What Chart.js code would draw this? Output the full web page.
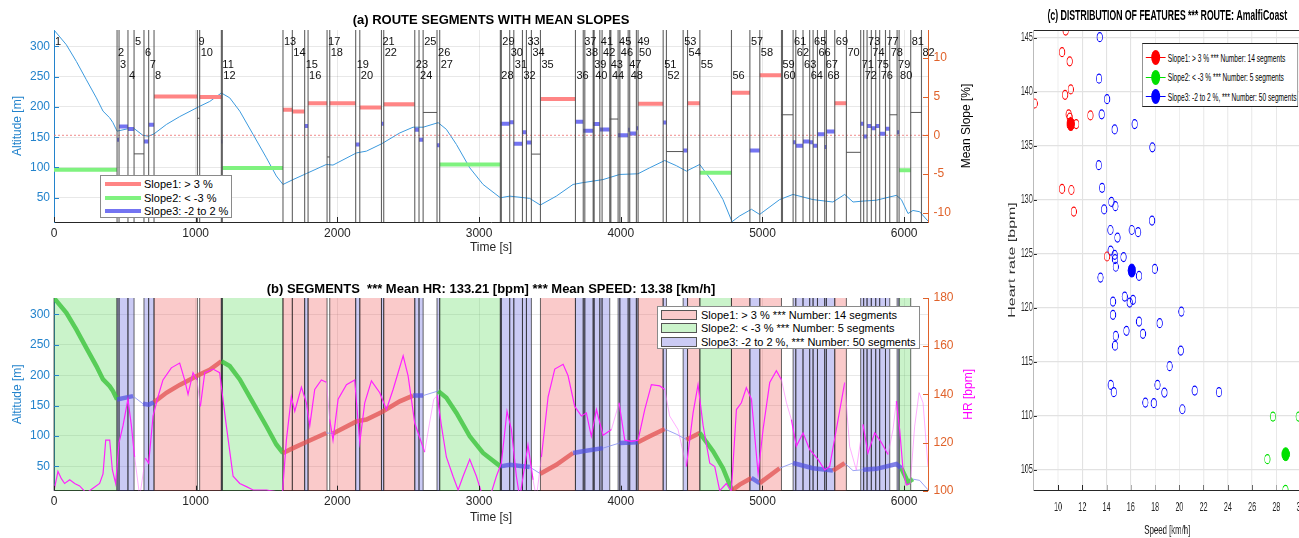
<!DOCTYPE html>
<html>
<head>
<meta charset="utf-8">
<script src="https://cdn.jsdelivr.net/npm/chart.js@4.4.1/dist/chart.umd.min.js"></script>
<style>
html, body { margin: 0; padding: 0; width: 1299px; height: 538px; overflow: hidden; background: #fff; }
body { position: relative; font-family: "Liberation Sans", Arial, sans-serif; }
#wrapA { position: absolute; left: 0; top: 0; width: 1000px; height: 262px; }
#wrapB { position: absolute; left: 0; top: 262px; width: 1000px; height: 276px; }
#wrapC { position: absolute; left: 1000px; top: 0; width: 560px; height: 538px; transform: scaleX(0.6); transform-origin: 0 0; }
.legend { position: absolute; background: #fff; border: 1px solid #8a8a8a; font-size: 11px; color: #000; box-sizing: border-box; }
.legend .row { position: absolute; left: 0; right: 0; height: 14px; line-height: 14px; white-space: nowrap; }
.legend .txt { position: absolute; top: 0; }
.legend .sw { position: absolute; box-sizing: border-box; }
</style>
</head>
<body>
<div id="wrapA"><canvas id="chartA" width="1000" height="262"></canvas>
  <div class="legend" id="legA" style="left:100px;top:175px;width:132px;height:43px"></div>
</div>
<div id="wrapB"><canvas id="chartB" width="1000" height="276"></canvas>
  <div class="legend" id="legB" style="left:657px;top:44px;width:263px;height:43px"></div>
</div>
<div id="wrapC"><canvas id="chartC" width="560" height="538"></canvas>
  <div class="legend" id="legC" style="left:237px;top:43px;width:260px;height:64px;border-color:#222"></div>
</div>
<script>
// segments: start time [s] and mean slope [%] (82 segments)
const segStart = [0, 445, 459, 522, 565, 635, 668, 706, 1012, 1028,
  1181, 1188, 1616, 1682, 1769, 1793, 1927, 1946, 2129, 2158,
  2311, 2327, 2546, 2576, 2605, 2703, 2722, 3150, 3157, 3216,
  3245, 3306, 3334, 3369, 3433, 3680, 3735, 3746, 3805, 3812,
  3852, 3868, 3922, 3930, 3981, 3993, 4052, 4063, 4110, 4122,
  4299, 4322, 4440, 4471, 4558, 4781, 4911, 4981, 5134, 5141,
  5216, 5235, 5286, 5333, 5357, 5388, 5439, 5451, 5510, 5592,
  5693, 5714, 5738, 5768, 5799, 5827, 5868, 5898, 5950, 5964,
  6046, 6122];
const segSlope = [-4.45, -0.58, 1.14, 0.8, -2.4, -0.8, 1.35, 5.0, 2.2, 4.96,
  -0.8, -4.24, 3.3, 3.07, 1.2, 4.15, -2.8, 4.15, -1.2, 3.6,
  1.5, 4.0, 0.7, -0.58, 2.95, -1.3, -3.76, 1.5, 1.48, 1.7,
  -1.1, 0.4, -0.92, -2.43, 4.7, 1.74, 0.6, 0.58, 1.45, 1.45,
  0.75, 0.75, 2.1, 2.1, 0, 0, 0.7, 0.24, 0.9, 4.06,
  1.65, -2.1, -1.95, 4.15, -4.84, 5.5, -1.95, 7.76, 2.65, 2.65,
  -0.9, -1.35, -0.8, -0.9, -1.35, 0.15, -1.5, 0.5, 4.15, -2.2,
  1.48, -0.15, 1.2, 0.9, 1.2, 0.2, 0.85, 2.65, 0.4, -4.5,
  2.95, null];
const tEnd = 6168;
const timeTicks = [0, 1000, 2000, 3000, 4000, 5000, 6000];

// altitude profile
const altTime = [0, 87, 158, 228, 299, 346, 393, 416, 445, 522, 558, 628, 668, 706, 793, 887, 1028, 1099, 1181, 1240,
  1311, 1405, 1499, 1569, 1616, 1687, 1781, 1922, 1969, 2134, 2205, 2311, 2440, 2534, 2605, 2711, 2769, 2840, 2934, 3028,
  3150, 3216, 3357, 3432, 3545, 3663, 3733, 3874, 3992, 4121, 4204, 4310, 4392, 4463, 4557, 4651, 4721, 4785, 4839, 4922,
  4980, 5121, 5215, 5356, 5497, 5580, 5639, 5709, 5804, 5945, 5980, 6027, 6062, 6109, 6168];
const altValue = [327, 302.7, 275, 245, 215, 193, 182, 174, 160, 164, 165.6, 153, 151.6, 155.5, 171, 184, 201, 209, 223, 215,
  193, 154.6, 116, 86, 72, 80, 90, 105, 104, 124, 127, 139, 157, 166.5, 166.5, 174, 163, 138, 99.5, 72,
  50, 52.7, 49, 38, 52.7, 72, 75, 80, 88.5, 89.6, 99.5, 111.5, 103, 94, 105, 75, 47, 10.5, 20, 31,
  22.5, 47, 55.5, 47, 43, 55.5, 43, 44.5, 46, 54, 47, 24, 29, 27, 11.5];

// heart rate
const hrTime = [0, 28, 52, 75, 111, 146, 181, 228, 275, 322, 346, 365, 393, 412, 435, 459, 487, 522, 546, 569,
  605, 645, 668, 699, 734, 769, 828, 887, 922, 946, 981, 1009, 1033, 1064, 1122, 1169, 1216, 1264, 1311, 1358,
  1405, 1499, 1569, 1612, 1640, 1675, 1699, 1746, 1781, 1805, 1840, 1887, 1922, 1946, 1969, 2005, 2064, 2122, 2158, 2193,
  2240, 2299, 2346, 2393, 2464, 2499, 2546, 2616, 2650, 2680, 2705, 2734, 2769, 2816, 2852, 2887, 2934, 2981, 3028, 3075,
  3122, 3157, 3197, 3228, 3263, 3287, 3345, 3381, 3404, 3440, 3487, 3534, 3593, 3628, 3675, 3722, 3757, 3792, 3828, 3875,
  3934, 3988, 4028, 4075, 4122, 4169, 4216, 4275, 4310, 4345, 4404, 4463, 4510, 4545, 4581, 4628, 4663, 4698, 4745, 4780,
  4816, 4851, 4886, 4922, 4969, 5004, 5051, 5098, 5134, 5169, 5204, 5239, 5286, 5333, 5392, 5439, 5474, 5521, 5580, 5615,
  5662, 5709, 5744, 5792, 5839, 5886, 5921, 5945, 5968, 5992, 6015, 6043, 6074, 6105, 6133, 6168];
const hrValue = [100, 108, 105, 103, 104.5, 103, 102, 99, 101, 103, 107, 121, 121, 108.6, 103, 120, 127, 138, 127, 114,
  97.5, 113.5, 111.4, 131, 139, 146, 151, 153, 146, 140, 149, 146, 135, 149, 150.5, 149, 127, 106, 103, 101.7,
  100.3, 100.3, 99.6, 99, 121, 139, 133, 143, 136.5, 127, 142, 146, 145, 129.5, 121, 138, 144, 146, 120, 136.5,
  145.6, 140.7, 133.7, 142, 156, 147.7, 128, 116, 128, 138, 139.5, 127, 114, 106, 100.3, 106, 113, 106, 97, 97,
  106, 111.4, 133, 125.4, 106, 97, 119, 104.5, 97, 114, 139, 150.5, 152.5, 147.7, 135, 131, 132.3, 122.6, 133.7, 123,
  125.4, 136.5, 121, 120.5, 121, 133.7, 144, 143.5, 142, 131, 125.4, 110, 132.3, 144, 127, 111.4, 110, 100, 103, 99.6,
  133.7, 136.5, 142.8, 138, 107, 125.4, 144.9, 149.8, 146, 136.5, 129.5, 118.4, 124, 117, 113, 108.6, 110, 125.4, 144.9, 118.4,
  108.6, 127.5, 115.6, 124, 120, 115, 125.4, 137.2, 125.4, 108.6, 102.4, 103, 126.8, 140.7, 136.5, 110];

// features per segment (speed km/h, heart rate bpm)
const redSpeed = [10.63, 10.33, 10.96, 10.58, 11.05, 8.08, 10.88, 10.97, 11.5, 12.67, 10.33, 11.1, 11.3, 14.04];
const redHR = [145.65, 143.65, 142.8, 139.7, 140.2, 138.9, 137.9, 137.6, 137, 137.8, 131, 130.9, 128.9, 124.75];
const greenSpeed = [27.72, 29.84, 27.26, 28.75];
const greenHR = [109.94, 109.94, 106.0, 103.16];
const blueSpeed = [13.44, 13.38, 14.04, 13.6, 14.67, 16.32, 17.78, 13.36, 13.63, 14.4, 14.73, 13.8, 14.32, 14.9, 16.08, 16.6,
  17.75, 14.34, 14.67, 15.4, 14.7, 14.76, 17.98, 13.5, 16.68, 15.5, 14.53, 15.91, 16.18, 20.17, 14.53, 16.68,
  18.38, 15.64, 14.76, 17.0, 14.7, 20.12, 19.2, 14.35, 14.6, 18.2, 18.77, 21.27, 23.27, 17.2, 17.9, 20.25];
const blueHR = [145.04, 141.2, 139.3, 137.9, 136.5, 137, 134.85, 133.2, 131.1, 129.8, 129.4, 129.1, 127.2, 126.5, 127.2, 127.0,
  128.07, 125.3, 124.9, 124.7, 124.5, 123.8, 123.6, 122.8, 122.95, 121.04, 120.58, 120.49, 120.74, 119.65, 119.35, 118.73,
  118.58, 117.87, 117.4, 117.6, 116.5, 116.05, 114.6, 112.87, 112.2, 112.87, 112.16, 112.35, 112.2, 111.24, 111.18, 110.62];
const meanSpeed = [11.05, 28.77, 16.08];
const meanHR = [137.0, 106.46, 123.45];

const slopeNames = ['Slope1: > 3 %', 'Slope2: < -3 %', 'Slope3: -2 to 2 %'];
const countNames = ['Slope1: > 3 % *** Number: 14 segments', 'Slope2: < -3 % *** Number: 5 segments',
  'Slope3: -2 to 2 %, *** Number: 50 segments'];

// ---- helpers ----
const FONT = '"Liberation Sans", Arial, sans-serif';
Chart.defaults.font.family = FONT;
const ink = '#262626', axBlue = '#2383cc', axOrange = '#e0622a', gridCol = 'rgba(0,0,0,0.09)';

function slopeClass(s) {
  if (s === null) return 0;
  if (s > 3) return 1;
  if (s < -3) return 2;
  if (s >= -2 && s <= 2) return 3;
  return 0;
}
const segEnd = i => (i < segStart.length - 1 ? segStart[i + 1] : tEnd);
function clsAt(t) {
  for (let i = segStart.length - 1; i >= 0; i--) if (t >= segStart[i]) return slopeClass(segSlope[i]);
  return 0;
}
const clsOf = c => clsAt((c.p0.parsed.x + c.p1.parsed.x) / 2);

function slopeLine(cls) {
  const pts = [];
  segStart.forEach((t0, i) => {
    if (segSlope[i] === null || slopeClass(segSlope[i]) !== cls) return;
    pts.push({x: t0, y: segSlope[i]}, {x: segEnd(i), y: segSlope[i]}, {x: segEnd(i), y: null});
  });
  return pts;
}
const altRange = [10, 327];
function boundaryLines() {
  const pts = [];
  segStart.slice(1).forEach(t => pts.push({x: t, y: altRange[0]}, {x: t, y: altRange[1]}, {x: t, y: null}));
  return pts;
}
const altPoints = altTime.map((t, i) => ({x: t, y: altValue[i]}));
const hrPoints = hrTime.map((t, i) => ({x: t, y: hrValue[i]}));
const xy = (xs, ys) => xs.map((v, i) => ({x: v, y: ys[i]}));

// ---- plugins ----
const segNumbers = {
  id: 'segNumbers',
  afterDatasetsDraw(chart) {
    const {ctx, chartArea: a, scales: {x}} = chart;
    ctx.save();
    ctx.font = '11px ' + FONT;
    ctx.fillStyle = '#111';
    ctx.textAlign = 'left';
    ctx.textBaseline = 'middle';
    segStart.forEach((t, i) => {
      ctx.fillText(String(i + 1), x.getPixelForValue(t) + 1, a.top + 11.7 + (i % 4) * 11.45);
    });
    ctx.restore();
  }
};

const patchFill = [null, 'rgba(240,80,80,0.3)', 'rgba(80,215,80,0.3)', 'rgba(80,80,220,0.3)'];
const patches = {
  id: 'patches',
  beforeDatasetsDraw(chart) {
    const {ctx, chartArea: a, scales: {x}} = chart;
    ctx.save();
    segStart.forEach((t0, i) => {
      const c = slopeClass(segSlope[i]);
      if (!c) return;
      const x0 = x.getPixelForValue(t0), x1 = x.getPixelForValue(segEnd(i));
      ctx.fillStyle = patchFill[c];
      ctx.fillRect(x0, a.top, x1 - x0, a.bottom - a.top);
      ctx.strokeStyle = 'rgba(40,40,40,0.7)';
      ctx.lineWidth = 1;
      ctx.beginPath();
      ctx.moveTo(x0, a.top); ctx.lineTo(x0, a.bottom);
      ctx.moveTo(x1, a.top); ctx.lineTo(x1, a.bottom);
      ctx.stroke();
    });
    ctx.restore();
  }
};

const sideTitle = {
  id: 'sideTitle',
  afterDraw(chart, args, opts) {
    if (!opts.text) return;
    const {ctx, chartArea: a} = chart;
    ctx.save();
    ctx.translate(chart.width - opts.inset, (a.top + a.bottom) / 2);
    ctx.rotate(-Math.PI / 2);
    ctx.font = '12px ' + FONT;
    ctx.fillStyle = opts.color;
    ctx.textAlign = 'center';
    ctx.textBaseline = 'middle';
    ctx.fillText(opts.text, 0, 0);
    ctx.restore();
  }
};

const innerTicks = {
  id: 'innerTicks',
  afterDraw(chart, args, opts) {
    const {ctx, chartArea: a} = chart;
    ctx.save();
    ctx.lineWidth = 1;
    (opts.axes || []).forEach(([id, color]) => {
      const s = chart.scales[id];
      ctx.strokeStyle = color;
      ctx.beginPath();
      s.ticks.forEach(tk => {
        const p = Math.round(s.getPixelForValue(tk.value)) + 0.5;
        if (s.isHorizontal()) { ctx.moveTo(p, a.bottom); ctx.lineTo(p, a.bottom - 5); }
        else if (s.position === 'left') { ctx.moveTo(a.left, p); ctx.lineTo(a.left + 5, p); }
        else { ctx.moveTo(a.right, p); ctx.lineTo(a.right - 5, p); }
      });
      ctx.stroke();
    });
    if (opts.top) {
      ctx.strokeStyle = ink;
      ctx.beginPath(); ctx.moveTo(a.left, a.top + 0.5); ctx.lineTo(a.right, a.top + 0.5); ctx.stroke();
    }
    ctx.restore();
  }
};

const base = {
  responsive: false,
  animation: false,
  events: [],
  layout: {padding: 0},
  elements: {point: {radius: 0}, line: {tension: 0}},
  spanGaps: false
};

function timeAxis(h, tickPad, titlePad) {
  return {
    type: 'linear', min: 0, max: tEnd,
    afterFit: s => { s.height = h; },
    afterBuildTicks: s => { s.ticks = timeTicks.map(v => ({value: v})); },
    ticks: {padding: tickPad, color: ink, font: {size: 12}, maxRotation: 0, autoSkip: false, callback: v => String(v)},
    grid: {color: gridCol, drawTicks: false},
    border: {color: ink},
    title: {display: true, text: 'Time [s]', color: ink, font: {size: 12}, padding: {top: 0, bottom: titlePad}}
  };
}
function altAxis() {
  return {
    type: 'linear', position: 'left', min: altRange[0], max: altRange[1],
    afterFit: s => { s.width = 54; },
    ticks: {stepSize: 50, includeBounds: false, padding: 4, color: axBlue, font: {size: 12}},
    grid: {color: gridCol, drawTicks: false},
    border: {color: axBlue},
    title: {display: true, text: 'Altitude [m]', color: axBlue, font: {size: 12}, padding: {top: 10.3, bottom: 0}}
  };
}

// ---- (a) ----
new Chart(document.getElementById('chartA'), {
  type: 'line',
  data: {datasets: [
    {data: boundaryLines(), borderColor: 'rgba(70,70,70,0.85)', borderWidth: 1.1, yAxisID: 'y', order: 0},
    {data: slopeLine(1), borderColor: '#ff8585', borderWidth: 4, yAxisID: 'y2', order: 1},
    {data: slopeLine(2), borderColor: '#7ff27f', borderWidth: 4, yAxisID: 'y2', order: 1},
    {data: slopeLine(3), borderColor: '#7474f2', borderWidth: 4, yAxisID: 'y2', order: 1},
    {data: slopeLine(0), borderColor: '#555', borderWidth: 1, yAxisID: 'y2', order: 1},
    {data: [{x: 0, y: 0}, {x: tEnd, y: 0}], borderColor: 'rgba(235,110,110,0.8)', borderDash: [2, 2], borderWidth: 1, yAxisID: 'y2', order: 2},
    {data: altPoints, borderColor: '#3c9ade', borderWidth: 1, yAxisID: 'y', order: 3}
  ]},
  options: Object.assign({}, base, {
    scales: {
      x: timeAxis(40, 4.8, 6.8),
      y: altAxis(),
      y2: {
        type: 'linear', position: 'right', min: -11.2, max: 13.6,
        afterFit: s => { s.width = 72; },
        ticks: {stepSize: 5, includeBounds: false, padding: 5.5, color: axOrange, font: {size: 12}},
        grid: {drawOnChartArea: false, drawTicks: false},
        border: {color: axOrange}
      }
    },
    plugins: {
      legend: {display: false}, tooltip: {enabled: false},
      title: {display: true, fullSize: false, text: '(a) ROUTE SEGMENTS WITH MEAN SLOPES', color: '#000',
        font: {size: 13, weight: 'bold'}, padding: {top: 13, bottom: 1.4}},
      sideTitle: {text: 'Mean Slope [%]', color: '#000', inset: 33.3},
      innerTicks: {axes: [['x', ink], ['y', axBlue], ['y2', axOrange]]}
    }
  }),
  plugins: [segNumbers, sideTitle, innerTicks]
});

// ---- (b) ----
const altStyle = [
  {c: 'rgba(130,140,240,0.8)', w: 1},
  {c: 'rgba(225,80,80,0.75)', w: 4.5},
  {c: 'rgba(60,195,60,0.8)', w: 4.5},
  {c: 'rgba(80,80,225,0.72)', w: 4.5}
];
const hrStyle = [
  {c: 'rgba(255,110,255,0.55)', w: 1},
  {c: '#ff22ff', w: 1.2}, {c: '#ff22ff', w: 1.2}, {c: '#ff22ff', w: 1.2}
];
new Chart(document.getElementById('chartB'), {
  type: 'line',
  data: {datasets: [
    {data: hrPoints, yAxisID: 'y2', order: 0, borderColor: '#ff22ff',
      segment: {borderColor: c => hrStyle[clsOf(c)].c, borderWidth: c => hrStyle[clsOf(c)].w}},
    {data: altPoints, yAxisID: 'y', order: 1, borderColor: altStyle[0].c,
      segment: {borderColor: c => altStyle[clsOf(c)].c, borderWidth: c => altStyle[clsOf(c)].w}}
  ]},
  options: Object.assign({}, base, {
    scales: {
      x: timeAxis(47.3, 4.1, 12.8),
      y: altAxis(),
      y2: {
        type: 'linear', position: 'right', min: 100, max: 180,
        afterFit: s => { s.width = 72; },
        ticks: {stepSize: 20, padding: 5.5, color: axOrange, font: {size: 12}},
        grid: {drawOnChartArea: false, drawTicks: false},
        border: {color: axOrange}
      }
    },
    plugins: {
      legend: {display: false}, tooltip: {enabled: false},
      title: {display: true, fullSize: false,
        text: '(b) SEGMENTS  *** Mean HR: 133.21 [bpm] *** Mean SPEED: 13.38 [km/h]', color: '#000',
        font: {size: 13, weight: 'bold'}, padding: {top: 19.7, bottom: 0.7}},
      sideTitle: {text: 'HR [bpm]', color: '#ff00ff', inset: 31.5},
      innerTicks: {axes: [['x', ink], ['y', axBlue], ['y2', axOrange]]}
    }
  }),
  plugins: [patches, sideTitle, innerTicks]
});

// ---- (c) ----
const dotCols = ['#ff0000', '#00e000', '#0000ff'];
const hollow = (pts, col) => ({data: pts, pointStyle: 'circle', pointRadius: 4.5, pointBorderWidth: 1.2,
  pointBorderColor: col, pointBackgroundColor: 'rgba(0,0,0,0)', showLine: false, order: 1});
new Chart(document.getElementById('chartC'), {
  type: 'scatter',
  data: {datasets: [
    {data: xy(meanSpeed, meanHR), pointStyle: 'circle', pointRadius: 6.5, pointBorderWidth: 1,
      pointBackgroundColor: dotCols, pointBorderColor: dotCols, order: 0},
    hollow(xy(redSpeed, redHR), dotCols[0]),
    hollow(xy(greenSpeed, greenHR), dotCols[1]),
    hollow(xy(blueSpeed, blueHR), dotCols[2])
  ]},
  options: Object.assign({}, base, {
    layout: {padding: {right: 59}},
    scales: {
      x: {
        type: 'linear', min: 8.02, max: 30,
        afterFit: s => { s.height = 48; },
        ticks: {stepSize: 2, includeBounds: false, padding: 10.8, color: ink, font: {size: 12}, maxRotation: 0},
        grid: {color: '#e2e2e2', lineWidth: 1.3, drawTicks: false},
        border: {color: ink},
        title: {display: true, text: 'Speed [km/h]', color: ink, font: {size: 13}, padding: {top: 0, bottom: 0.2}}
      },
      y: {
        type: 'linear', position: 'left', min: 103.15, max: 145.7,
        afterFit: s => { s.width = 56.7; },
        ticks: {stepSize: 5, includeBounds: false, padding: 2, color: ink, font: {size: 12}},
        grid: {color: '#e2e2e2', lineWidth: 1.3, drawTicks: false},
        border: {color: ink},
        title: {display: true, text: 'Heart rate [bpm]', color: '#333', font: {size: 16}, padding: {top: 11, bottom: 0}}
      }
    },
    plugins: {
      legend: {display: false}, tooltip: {enabled: false},
      title: {display: true, fullSize: false, text: '(c) DISTRIBUTION OF FEATURES *** ROUTE: AmalfiCoast', color: '#000',
        font: {size: 14.5, weight: 'bold'}, padding: {top: 6.8, bottom: 5.8}},
      innerTicks: {axes: [['x', ink], ['y', ink]], top: true}
    }
  }),
  plugins: [innerTicks]
});

// ---- legends ----
function addRow(box, center, text, textLeft, swatch) {
  const row = document.createElement('div');
  row.className = 'row';
  row.style.top = (center - 7) + 'px';
  const sw = document.createElement('div');
  sw.className = 'sw';
  Object.assign(sw.style, swatch);
  row.appendChild(sw);
  const tx = document.createElement('div');
  tx.className = 'txt';
  tx.style.left = textLeft + 'px';
  tx.textContent = text;
  row.appendChild(tx);
  box.appendChild(row);
  return row;
}
const lineCols = ['#ff8585', '#7ff27f', '#7474f2'];
const legA = document.getElementById('legA');
slopeNames.forEach((t, i) => addRow(legA, [8, 21.5, 34.5][i], t, 43,
  {left: '4px', top: '5px', width: '36px', height: '4px', background: lineCols[i]}));
const rectCols = ['rgb(250,203,203)', 'rgb(203,244,203)', 'rgb(203,203,244)'];
const legB = document.getElementById('legB');
countNames.forEach((t, i) => addRow(legB, [7.5, 21, 34.5][i], t, 43,
  {left: '3px', top: '2px', width: '36px', height: '10px', background: rectCols[i], border: '1px solid #555'}));
const legC = document.getElementById('legC');
countNames.forEach((t, i) => {
  const row = addRow(legC, [13.5, 33, 52.5][i], t, 41.6,
    {left: '5px', top: '6.5px', width: '33px', height: '1.2px', background: dotCols[i]});
  const dot = document.createElement('div');
  dot.className = 'sw';
  Object.assign(dot.style, {left: '14px', top: '-0.5px', width: '15px', height: '15px', borderRadius: '50%', background: dotCols[i]});
  row.appendChild(dot);
});
</script>
</body>
</html>
